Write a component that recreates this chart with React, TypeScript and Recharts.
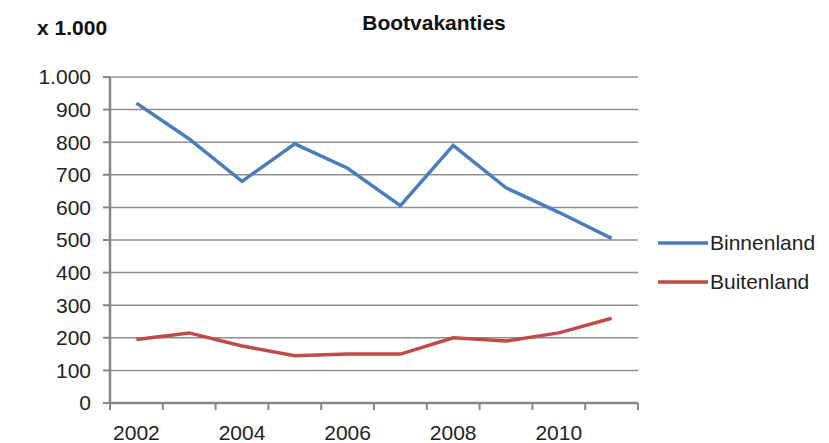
import { LineChart, Line, XAxis, YAxis, CartesianGrid, Legend } from "recharts";

// Boat holidays per year, in thousands
const years = ["2002", "2003", "2004", "2005", "2006", "2007", "2008", "2009", "2010", "2011"];
const binnenland = [920, 810, 680, 795, 720, 605, 790, 660, 585, 505];
const buitenland = [195, 215, 175, 145, 150, 150, 200, 190, 215, 260];
const yTicks = [0, 100, 200, 300, 400, 500, 600, 700, 800, 900, 1000];

const data = years.map((year, i) => ({
  year,
  Binnenland: binnenland[i],
  Buitenland: buitenland[i],
}));

const WIDTH = 829;
const HEIGHT = 443;
const PLOT_LEFT = 110;
const PLOT_RIGHT = 638;
const BAND = (PLOT_RIGHT - PLOT_LEFT) / years.length;

const FONT = "'Liberation Sans', Arial, sans-serif";
const AXIS_COLOR = "#868686";

const formatThousands = (v: number) =>
  String(v).replace(/\B(?=(\d{3})+(?!\d))/g, ".");

// Excel-style category axis: tick marks between categories, labels on every other year
function YearTick(props: any) {
  const { x, y, payload, index } = props;
  const half = BAND / 2;
  const showLabel = index % 2 === 0;
  return (
    <g>
      <line x1={x - half} y1={y} x2={x - half} y2={y + 7} stroke={AXIS_COLOR} strokeWidth={2} />
      {index === years.length - 1 && (
        <line x1={x + half} y1={y} x2={x + half} y2={y + 7} stroke={AXIS_COLOR} strokeWidth={2} />
      )}
      {showLabel && (
        <text x={x} y={y + 37} textAnchor="middle" fontSize={21} fontFamily={FONT} fill="#222">
          {payload.value}
        </text>
      )}
    </g>
  );
}

function LegendContent(props: any) {
  const { payload } = props;
  return (
    <svg width={175} height={80}>
      {(payload || []).map((entry: any, i: number) => (
        <g key={entry.value} transform={`translate(0, ${18 + i * 39})`}>
          <line x1={3} y1={0} x2={53} y2={0} stroke={entry.color} strokeWidth={3.5} />
          <text x={55} y={0} dy="0.35em" fontSize={21} fontFamily={FONT} fill="#222">
            {entry.value}
          </text>
        </g>
      ))}
    </svg>
  );
}

export default function App() {
  return (
    <div style={{ position: "relative", width: WIDTH, height: HEIGHT, background: "#fff" }}>
      <style>{`body { margin: 0; }`}</style>
      <div
        style={{
          position: "absolute",
          left: 37,
          top: 16,
          fontFamily: FONT,
          fontWeight: "bold",
          fontSize: 21,
          color: "#111",
          lineHeight: "24px",
        }}
      >
        x 1.000
      </div>
      <div
        style={{
          position: "absolute",
          left: 334,
          width: 200,
          top: 11,
          textAlign: "center",
          fontFamily: FONT,
          fontWeight: "bold",
          fontSize: 21,
          color: "#111",
          lineHeight: "24px",
        }}
      >
        Bootvakanties
      </div>
      <LineChart
        width={WIDTH}
        height={HEIGHT}
        data={data}
        margin={{ top: 77, right: WIDTH - PLOT_RIGHT, bottom: 0, left: 0 }}
      >
        <CartesianGrid vertical={false} stroke="#8f8f8f" strokeWidth={1.5} />
        <XAxis
          dataKey="year"
          height={40}
          padding={{ left: BAND / 2, right: BAND / 2 }}
          tickLine={false}
          tickSize={0}
          tickMargin={0}
          interval={0}
          tick={<YearTick />}
          axisLine={{ stroke: AXIS_COLOR, strokeWidth: 2.5 }}
        />
        <YAxis
          width={PLOT_LEFT}
          domain={[0, 1000]}
          ticks={yTicks}
          tickFormatter={formatThousands}
          tickSize={7}
          tickMargin={12}
          tick={{ fontSize: 21, fontFamily: FONT, fill: "#222" }}
          tickLine={{ stroke: AXIS_COLOR, strokeWidth: 2 }}
          axisLine={{ stroke: AXIS_COLOR, strokeWidth: 2.5 }}
        />
        <Legend
          layout="vertical"
          align="center"
          verticalAlign="middle"
          wrapperStyle={{ left: 655, top: 225, width: 175 }}
          content={<LegendContent />}
        />
        <Line
          type="linear"
          dataKey="Binnenland"
          stroke="#4A7EBB"
          strokeWidth={3.5}
          dot={false}
          isAnimationActive={false}
        />
        <Line
          type="linear"
          dataKey="Buitenland"
          stroke="#BE4B48"
          strokeWidth={3.5}
          dot={false}
          isAnimationActive={false}
        />
      </LineChart>
    </div>
  );
}
